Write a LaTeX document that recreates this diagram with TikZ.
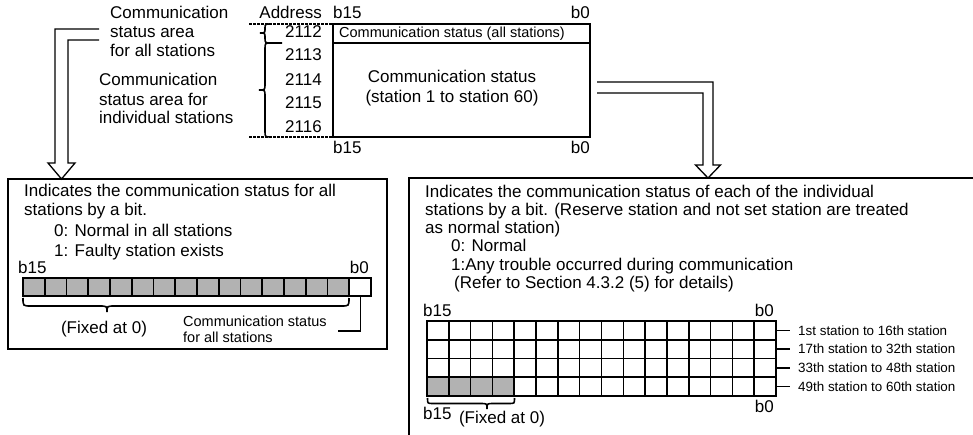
\documentclass[tikz,border=0pt]{standalone}
\usepackage{fontspec}
\setmainfont{Liberation Sans}
\definecolor{cellgray}{RGB}{178,178,178}
\tikzset{
  txt/.style={font=\fontsize{17}{20}\selectfont, inner sep=0pt, anchor=base west},
  txtr/.style={txt, anchor=base east},
  txtc/.style={txt, anchor=base},
  smalltxt/.style={font=\fontsize{14.5}{17}\selectfont, inner sep=0pt, anchor=base west},
  tinytxt/.style={font=\fontsize{13.4}{15}\selectfont, inner sep=0pt, anchor=base west},
  boxline/.style={line width=1.5pt},
  gridline/.style={line width=1.6pt},
  thinline/.style={line width=1.2pt},
  braceline/.style={line width=1.6pt},
  dashline/.style={line width=1.4pt, dash pattern=on 2.5pt off 1.5pt},
  hollow/.style={line width=1.3pt, fill=white, line join=miter},
}
\begin{document}
\begin{tikzpicture}[x=1pt,y=-1pt]
\useasboundingbox (0,0) rectangle (973,435);

% ---------- top labels ----------
\node[txt] (l1a) at (110,19) {Communication};
\node[txt] (l1b) at (110,38) {status area};
\node[txt] (l1c) at (110,57) {for all stations};
\node[txt] (l2a) at (99,86) {Communication};
\node[txt] (l2b) at (99,106) {status area for};
\node[txt] (l2c) at (99,124) {individual stations};

\node[txtr] (addr) at (322,19) {Address};
\node[txt] (tb15) at (333,19) {b15};
\node[txtr] (tb0) at (590,19) {b0};
\node[txtr] (a2112) at (322,38) {2112};
\node[txtr] (a2113) at (322,61) {2113};
\node[txtr] (a2114) at (322,86) {2114};
\node[txtr] (a2115) at (322,109) {2115};
\node[txtr] (a2116) at (322,133) {2116};

% register box
\draw[boxline] (333,24) rectangle (590,137);
\draw[boxline] (333,43) -- (590,43);
\node[smalltxt] (allst) at (339,38) {Communication status (all stations)};
\node[txtc] (cs1) at (452,83) {Communication status};
\node[txtc] (cs2) at (452,103) {(station 1 to station 60)};
\node[txt] (bb15) at (333,154) {b15};
\node[txtr] (bb0) at (590,154) {b0};

% dashed guide lines
\draw[dashline] (249,24) -- (333,24);
\draw[dashline] (249,137) -- (333,137);

% braces
\draw[braceline] (271,24) .. controls (265,24) .. (265,28.5)
  .. controls (265,33) .. (260,33) .. controls (265,33) .. (265,37.5)
  .. controls (265,43) .. (271,43) -- (282,43);
\draw[braceline] (271,43) .. controls (265,43) .. (265,49) -- (265,84)
  .. controls (265,90) .. (259,90) .. controls (265,90) .. (265,96)
  -- (265,131) .. controls (265,137) .. (271,137);

% hollow arrows
\draw[hollow] (99,29) -- (55,29) -- (55,163) -- (48,163) -- (61.5,179) -- (75,163)
  -- (68,163) -- (68,40) -- (99,40);
\draw[hollow] (597,82) -- (713,82) -- (713,165) -- (720.5,165) -- (708,178)
  -- (695.5,165) -- (703,165) -- (703,93) -- (597,93);

% ---------- left box ----------
\draw[boxline] (8,179) rectangle (387,349);
\node[txt] (lt1) at (24,197) {Indicates the communication status for all};
\node[txt] (lt2) at (24,216) {stations by a bit.};
\node[txt] (lt3) at (54,237) {0: Normal in all stations};
\node[txt] (lt4) at (54,257) {1: Faulty station exists};
\node[txt] (lb15) at (18,273) {b15};
\node[txtr] (lb0) at (369,273) {b0};
\foreach \i in {0,...,14}
  \draw[gridline, fill=cellgray] ({23+\i*21.75},278) rectangle ++(21.75,18);
\draw[gridline, fill=white] (349.25,278) rectangle (371,296);
\draw[braceline] (23,298) .. controls (23,306) .. (31,306) -- (99,306)
  .. controls (107,306) .. (107,312) .. controls (107,306) .. (115,306)
  -- (341,306) .. controls (349,306) .. (349,298);
\node[txtc] (lfix) at (104,333) {(Fixed at 0)};
\node[smalltxt] (lcs1) at (183,326) {Communication status};
\node[smalltxt] (lcs2) at (183,342) {for all stations};
\draw[thinline] (360.1,296) -- (360.1,331) -- (338,331);

% ---------- right box ----------
\draw[boxline] (975,178) -- (409,178) -- (409,437);
\node[txt] (rt1) at (425,198) {Indicates the communication status of each of the individual};
\node[txt] (rt2) at (425,216) {stations by a bit. (Reserve station and not set station are treated};
\node[txt] (rt3) at (425,234) {as normal station)};
\node[txt] (rt4) at (451,252) {0: Normal};
\node[txt] (rt5) at (451,270) {1:Any trouble occurred during communication};
\node[txt] (rt6) at (454,288) {(Refer to Section 4.3.2 (5) for details)};
\node[txt] (rb15) at (423,316) {b15};
\node[txtr] (rb0) at (774,316) {b0};
\fill[cellgray] (427,377.25) rectangle (514.25,396);
\foreach \i in {1,...,15}
  \draw[gridline] ({427+\i*21.8125},321) -- ++(0,75);
\foreach \j in {1,...,3}
  \draw[gridline] (427,{321+\j*18.75}) -- (776,{321+\j*18.75});
\draw[gridline] (427,321) rectangle (776,396);
\foreach \j/\t in {0/1st station to 16th station,1/17th station to 32th station,
                   2/33th station to 48th station,3/49th station to 60th station}{
  \draw[gridline] (776,{330.4+\j*18.75}) -- (790,{330.4+\j*18.75});
  \node[tinytxt] (row\j) at (798,{335.2+\j*18.75}) {\t};
}
\node[txtr] (rbb0) at (774,412) {b0};
\draw[braceline] (427.5,398) .. controls (427.5,403.5) .. (433,403.5) -- (481,403.5)
  .. controls (487,403.5) .. (487,409) .. controls (487,403.5) .. (493,403.5)
  -- (509,403.5) .. controls (514.5,403.5) .. (514.5,398);
\node[txt] (rbb15) at (423,419) {b15};
\node[txtc] (rfix) at (502,423) {(Fixed at 0)};
\end{tikzpicture}
\end{document}
